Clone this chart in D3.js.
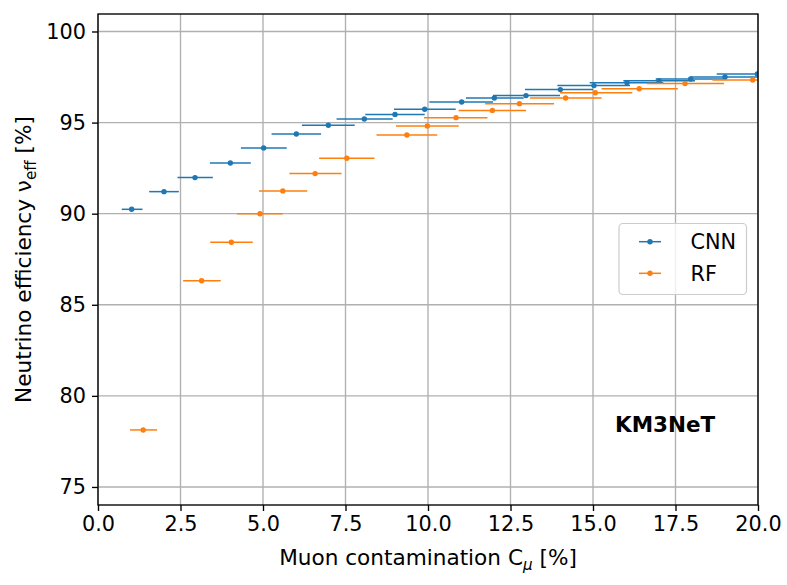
<!DOCTYPE html>
<html><head><meta charset="utf-8">
<script src="https://cdn.jsdelivr.net/npm/d3@7"></script>
<style>body{margin:0;background:#fff}svg{display:block}text{font-family:"DejaVu Sans",sans-serif}</style>
</head><body><svg id="c" width="787" height="585"></svg>
<script>
const cnnX   = [1.02, 2.0, 2.94, 4.01, 5.02, 6.01, 6.98, 8.07, 9.0, 9.9, 11.02, 12.01, 12.97, 14.01, 15.03, 16.03, 17.0, 17.96, 19.0, 19.98];
const cnnY   = [90.24, 91.21, 91.98, 92.78, 93.61, 94.37, 94.85, 95.2, 95.45, 95.73, 96.13, 96.35, 96.48, 96.81, 97.03, 97.19, 97.3, 97.39, 97.5, 97.67];
const cnnXlo = [0.72, 1.55, 2.41, 3.39, 4.33, 5.26, 6.18, 7.23, 8.1, 8.97, 10.04, 11.15, 11.97, 12.94, 13.92, 14.9, 15.92, 16.9, 17.95, 18.75];
const cnnXhi = [1.35, 2.45, 3.48, 4.63, 5.72, 6.76, 7.78, 8.93, 9.9, 10.84, 11.97, 12.9, 14.0, 15.0, 16.12, 17.13, 18.09, 19.05, 20.05, 21.2];

const rfX   = [1.37, 3.14, 4.04, 4.91, 5.6, 6.58, 7.54, 9.36, 9.98, 10.85, 11.95, 12.77, 14.17, 15.07, 16.4, 17.79, 19.84];
const rfY   = [78.13, 86.32, 88.43, 90.0, 91.25, 92.2, 93.04, 94.32, 94.81, 95.27, 95.67, 96.04, 96.35, 96.64, 96.86, 97.14, 97.34];
const rfXlo = [0.97, 2.58, 3.4, 4.21, 4.88, 5.8, 6.7, 8.44, 9.03, 9.88, 10.93, 11.73, 13.09, 14.0, 15.26, 16.63, 18.62];
const rfXhi = [1.79, 3.72, 4.69, 5.6, 6.34, 7.38, 8.38, 10.28, 10.93, 11.8, 12.97, 13.82, 15.26, 16.19, 17.57, 18.97, 21.0];

const xTicks = [0, 2.5, 5, 7.5, 10, 12.5, 15, 17.5, 20];
const yTicks = [75, 80, 85, 90, 95, 100];
const seriesNames = ["CNN", "RF"];
const colors = ["#1f77b4", "#ff7f0e"];

const svg = d3.select("#c");
const L = 98, R = 758, T = 14, B = 505;
const FS = 20.8;
const LFS = 21.6;
const x = d3.scaleLinear().domain([0, 20]).range([L, R]);
const y = d3.scaleLinear().domain([74.01, 100.96]).range([B, T]);

// grid
const g = svg.append("g");
g.selectAll(".gx").data(xTicks).join("line")
  .attr("x1", d => x(d)).attr("x2", d => x(d)).attr("y1", T).attr("y2", B)
  .attr("stroke", "#b0b0b0").attr("stroke-width", 1.36);
g.selectAll(".gy").data(yTicks).join("line")
  .attr("y1", d => y(d)).attr("y2", d => y(d)).attr("x1", L).attr("x2", R)
  .attr("stroke", "#b0b0b0").attr("stroke-width", 1.36);

svg.append("clipPath").attr("id", "clip").append("rect")
  .attr("x", L).attr("y", T).attr("width", R - L).attr("height", B - T);
const plot = svg.append("g").attr("clip-path", "url(#clip)");

const series = [
  {xs: cnnX, ys: cnnY, lo: cnnXlo, hi: cnnXhi},
  {xs: rfX, ys: rfY, lo: rfXlo, hi: rfXhi}
];
series.forEach((s, si) => {
  const data = s.xs.map((v, i) => ({x: v, y: s.ys[i], lo: s.lo[i], hi: s.hi[i]}));
  const gg = plot.append("g");
  gg.selectAll("line").data(data).join("line")
    .attr("x1", d => x(d.lo)).attr("x2", d => x(d.hi))
    .attr("y1", d => y(d.y)).attr("y2", d => y(d.y))
    .attr("stroke", colors[si]).attr("stroke-width", 1.5);
  gg.selectAll("circle").data(data).join("circle")
    .attr("cx", d => x(d.x)).attr("cy", d => y(d.y)).attr("r", 2.7)
    .attr("fill", colors[si]);
});

// axes
const xAxis = d3.axisBottom(x).tickValues(xTicks).tickFormat(d3.format(".1f")).tickSize(6).tickPadding(5);
const yAxis = d3.axisLeft(y).tickValues(yTicks).tickFormat(d3.format("d")).tickSize(6).tickPadding(6);
const gxA = svg.append("g").attr("transform", `translate(0,${B})`).call(xAxis);
const gyA = svg.append("g").attr("transform", `translate(${L},0)`).call(yAxis);
[gxA, gyA].forEach(a => {
  a.select(".domain").remove();
  a.selectAll(".tick line").attr("stroke", "#000").attr("stroke-width", 1.36);
  a.selectAll(".tick text").attr("fill", "#000").style("font-size", FS + "px");
});
svg.append("rect").attr("x", L).attr("y", T).attr("width", R - L).attr("height", B - T)
  .attr("fill", "none").attr("stroke", "#000").attr("stroke-width", 1.36);

// axis labels
const xl = svg.append("text").attr("x", (L + R) / 2).attr("y", 565).attr("text-anchor", "middle")
  .style("font-size", LFS + "px");
xl.append("tspan").text("Muon contamination C");
xl.append("tspan").attr("dy", 5).style("font-size", (LFS * 0.7) + "px").style("font-style", "italic").text("μ");
xl.append("tspan").attr("dy", -5).text(" [%]");

const yl = svg.append("text").attr("transform", `translate(31,${(T + B) / 2}) rotate(-90)`)
  .attr("text-anchor", "middle").style("font-size", LFS + "px");
yl.append("tspan").text("Neutrino efficiency ν");
yl.append("tspan").attr("dy", 5).style("font-size", (LFS * 0.7) + "px").text("eff");
yl.append("tspan").attr("dy", -5).text(" [%]");

// KM3NeT
svg.append("text").attr("x", 615).attr("y", 431.5).style("font-size", "21.5px")
  .style("font-weight", "bold").text("KM3NeT");

// legend
const lg = svg.append("g");
lg.append("rect").attr("x", 619).attr("y", 223.5).attr("width", 127.5).attr("height", 71)
  .attr("rx", 4).attr("fill", "#fff").attr("fill-opacity", 0.8).attr("stroke", "#cccccc").attr("stroke-width", 1.2);
seriesNames.forEach((n, i) => {
  const yy = 241.7 + i * 31.6;
  lg.append("line").attr("x1", 639).attr("x2", 661).attr("y1", yy).attr("y2", yy)
    .attr("stroke", colors[i]).attr("stroke-width", 1.5);
  lg.append("circle").attr("cx", 650).attr("cy", yy).attr("r", 2.7).attr("fill", colors[i]);
  lg.append("text").attr("x", 690.5).attr("y", yy + 7.5).style("font-size", FS + "px").text(n);
});
</script></body></html>
